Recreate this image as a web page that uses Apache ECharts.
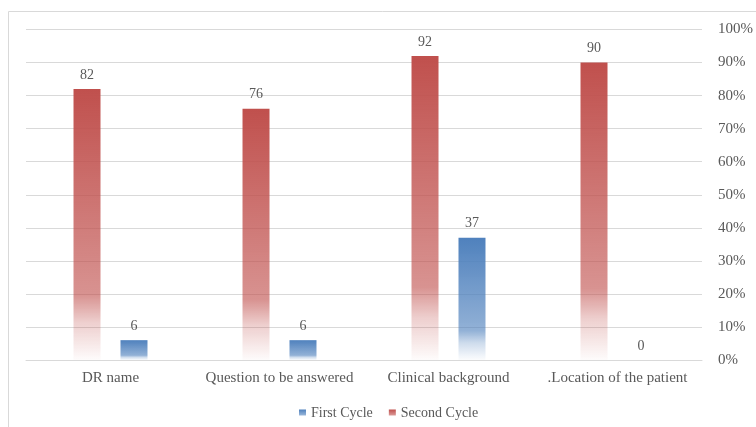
<!DOCTYPE html>
<html>
<head>
<meta charset="utf-8">
<script src="https://cdn.jsdelivr.net/npm/echarts@6/dist/echarts.min.js"></script>
<style>
  html, body { margin: 0; padding: 0; background: #fff; }
  #chart { width: 756px; height: 427px; }
</style>
</head>
<body>
<div id="chart"></div>
<script>
var categories = ['DR name', 'Question to be answered', 'Clinical background', '.Location of the patient'];
var firstCycle = [6, 6, 37, 0];
var secondCycle = [82, 76, 92, 90];
var percentTicks = [0, 10, 20, 30, 40, 50, 60, 70, 80, 90, 100];

var font = 'Liberation Serif';
var textColor = '#595959';

function fade(r, g, b) {
    return new echarts.graphic.LinearGradient(0, 0, 0, 1, [
        { offset: 0, color: 'rgba(' + r + ',' + g + ',' + b + ',1)' },
        { offset: 0.76, color: 'rgba(' + r + ',' + g + ',' + b + ',0.62)' },
        { offset: 0.86, color: 'rgba(' + r + ',' + g + ',' + b + ',0.28)' },
        { offset: 1, color: 'rgba(' + r + ',' + g + ',' + b + ',0.02)' }
    ]);
}

var myChart = echarts.init(document.getElementById('chart'));

var option = {
    animation: false,
    textStyle: { fontFamily: font },
    graphic: [{
        type: 'polyline',
        shape: { points: [[8.5, 427], [8.5, 11.5], [756, 11.5]] },
        style: { stroke: '#d9d9d9', fill: null, lineWidth: 1 }
    }],
    legend: {
        data: ['First Cycle', 'Second Cycle'],
        left: 294,
        top: 401,
        icon: 'rect',
        itemWidth: 7,
        itemHeight: 7,
        itemGap: 16,
        textStyle: { color: textColor, fontSize: 14, fontFamily: font }
    },
    grid: { left: 26, right: 52, top: 29.5, bottom: 67 },
    xAxis: {
        type: 'category',
        data: categories,
        axisTick: { show: false },
        axisLine: { lineStyle: { color: '#d9d9d9' } },
        axisLabel: { interval: 0, color: textColor, fontSize: 15, fontFamily: font, margin: 11 }
    },
    yAxis: {
        type: 'value',
        position: 'right',
        min: percentTicks[0],
        max: percentTicks[percentTicks.length - 1],
        interval: 10,
        axisLine: { show: false },
        axisTick: { show: false },
        splitLine: { lineStyle: { color: '#d9d9d9' } },
        axisLabel: { color: textColor, fontSize: 15, fontFamily: font, margin: 16, formatter: '{value}%' }
    },
    series: [
        {
            name: 'Second Cycle',
            type: 'bar',
            data: secondCycle,
            barWidth: 27,
            barGap: '74%',
            itemStyle: { color: fade(192, 80, 77) },
            label: { show: true, position: 'top', distance: 7, color: textColor, fontSize: 14, fontFamily: font }
        },
        {
            name: 'First Cycle',
            type: 'bar',
            data: firstCycle,
            barWidth: 27,
            barGap: '74%',
            itemStyle: { color: fade(79, 129, 189) },
            label: { show: true, position: 'top', distance: 7, color: textColor, fontSize: 14, fontFamily: font }
        }
    ]
};
myChart.setOption(option);
</script>
</body>
</html>
